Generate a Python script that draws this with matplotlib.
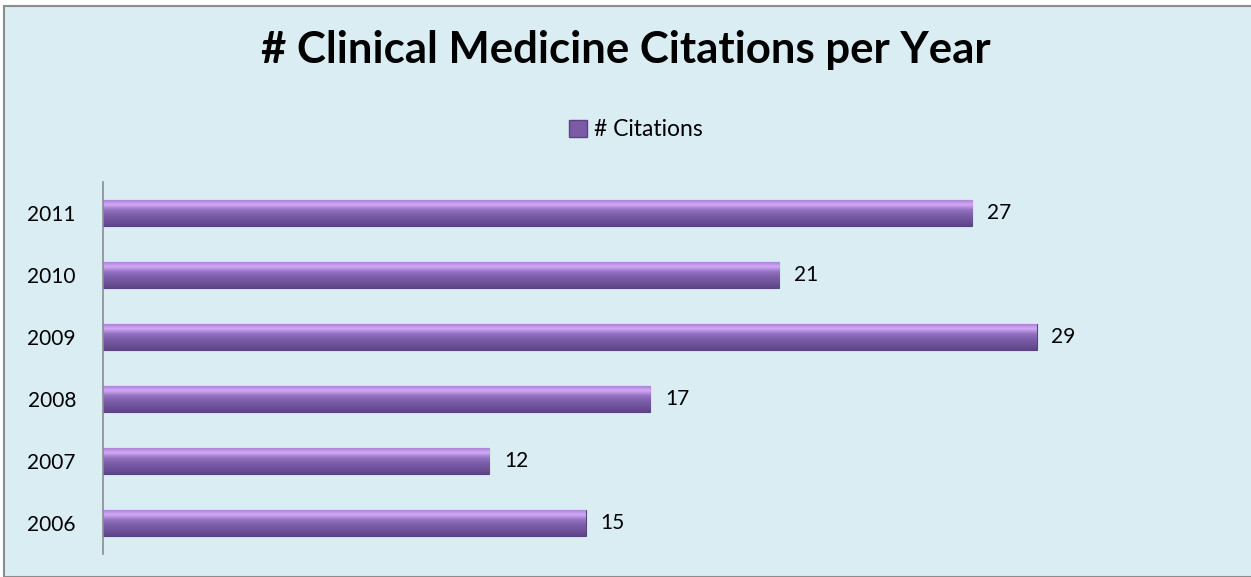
import numpy as np
import matplotlib
matplotlib.use("Agg")
import matplotlib.pyplot as plt
from matplotlib.patches import Rectangle
from matplotlib.colors import LinearSegmentedColormap

years = ["2006", "2007", "2008", "2009", "2010", "2011"]
citations = [15, 12, 17, 29, 21, 27]
title = "# Clinical Medicine Citations per Year"
series_name = "# Citations"

bg = "#DAEDF3"
plt.rcParams["font.family"] = ["Lato", "DejaVu Sans"]

fig = plt.figure(figsize=(12.51, 5.77), dpi=100)
fig.patch.set_facecolor("white")
# chart area frame
fig.patches.append(Rectangle((4 / 1251, 0), 1.0, 1 - 6 / 577, transform=fig.transFigure,
                             facecolor=bg, edgecolor="#8C8C8C", linewidth=1.5, zorder=-5))

ax = fig.add_axes([103 / 1251, 23 / 577, 1127 / 1251, 372 / 577], zorder=2)
ax.set_facecolor("none")

y = np.arange(len(years))
bars = ax.barh(y, citations, height=0.42, color="#7B5BA5", edgecolor="#5A4380", linewidth=0.8, zorder=2)

# vertical gradient inside each bar
grad = LinearSegmentedColormap.from_list("g", ["#5E4684", "#6E529A", "#7C5DA8", "#9272C0", "#D3A8F7", "#A37FD0"])
gimg = np.linspace(0, 1, 64).reshape(-1, 1)
for b in bars:
    x0, y0, w, h = b.get_x(), b.get_y(), b.get_width(), b.get_height()
    im = ax.imshow(gimg, cmap=grad, aspect="auto", origin="lower",
                   extent=[x0, x0 + w, y0, y0 + h], zorder=2.5)
    im.set_clip_path(b)

for yi, v in zip(y, citations):
    ax.text(v + 0.45, yi, str(v), va="center", ha="left", fontsize=15, color="black")

ax.set_xlim(0, 35)
ax.set_ylim(-0.5, len(years) - 0.5)
ax.set_yticks(y)
ax.set_yticklabels(years, fontsize=15)
ax.tick_params(axis="y", length=0, pad=19.5)
ax.set_xticks([])
for s in ["top", "right", "bottom"]:
    ax.spines[s].set_visible(False)
ax.spines["left"].set_color("#8C8C8C")
ax.spines["left"].set_linewidth(1.2)

fig.text(0.5, 1 - 50 / 577, title, ha="center", va="center", fontsize=31.5, fontweight="bold")

handle = Rectangle((0, 0), 1, 1, facecolor="#7B5BA5", edgecolor="#5A4380")
fig.legend([handle], [series_name], loc="center", bbox_to_anchor=(0.508, 1 - 130 / 577),
           frameon=False, fontsize=16.5, handlelength=0.8, handleheight=0.8, handletextpad=0.3)

fig.savefig("out.png", dpi=100, facecolor=fig.get_facecolor())
